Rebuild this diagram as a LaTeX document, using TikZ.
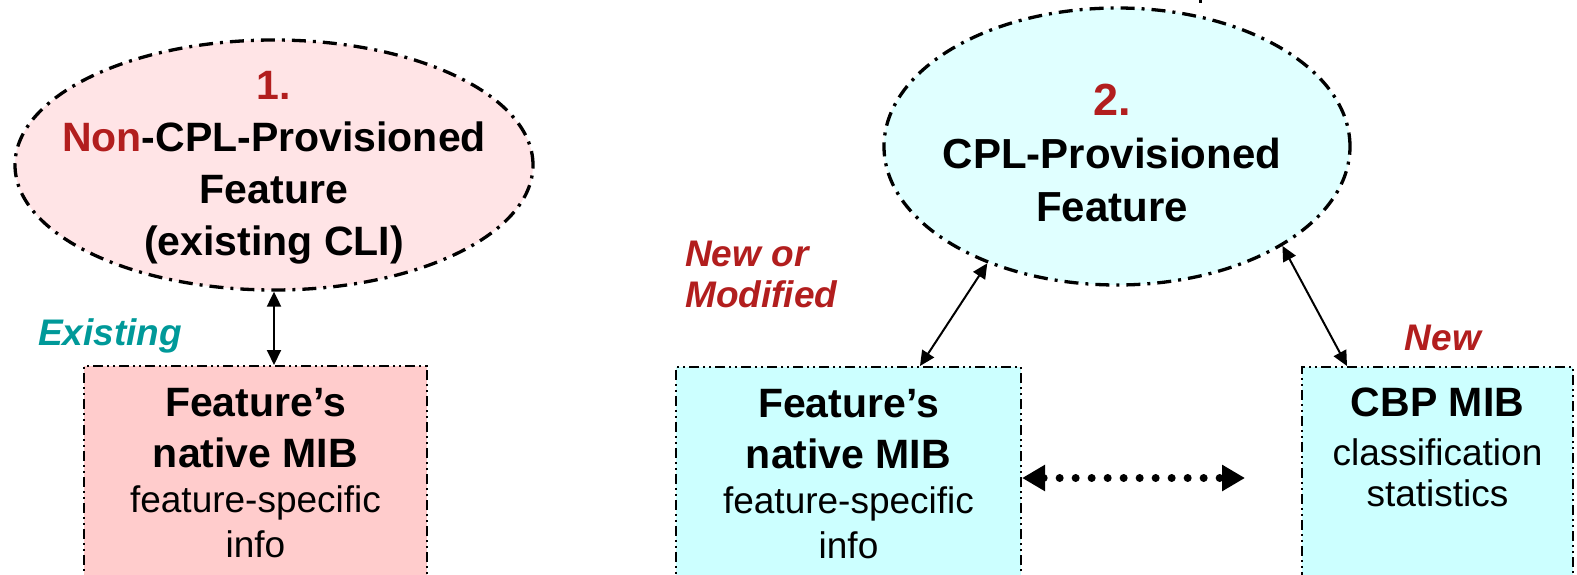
\documentclass[tikz,border=0pt]{standalone}
\usepackage{fontspec}
\setmainfont{Liberation Sans}
\usetikzlibrary{shapes.geometric,arrows.meta}
\definecolor{cplred}{RGB}{178,30,30}
\definecolor{cplteal}{RGB}{0,153,153}
\definecolor{pinkell}{RGB}{255,228,230}
\definecolor{pinkbox}{RGB}{255,204,204}
\definecolor{cyanell}{RGB}{224,255,255}
\definecolor{cyanbox}{RGB}{204,255,255}
\newcommand{\hd}[1]{{\bfseries\fontsize{41}{45}\selectfont #1}}

\begin{document}
\begin{tikzpicture}[x=1pt,y=-1pt,
  enode/.style={draw,ellipse,line width=3.3pt,dash pattern=on 14pt off 7pt on 3pt off 7pt,inner sep=0pt},
  tnode/.style={inner sep=0pt,align=center,font=\bfseries\fontsize{41}{52}\selectfont},
  bnode/.style={draw,rectangle,line width=2.2pt,dash pattern=on 10pt off 4pt on 2pt off 4pt on 2pt off 4pt,anchor=north,inner xsep=0pt,inner ysep=22pt,text depth=30pt,align=center,font=\fontsize{37}{45}\selectfont},
  lnode/.style={anchor=base west,inner sep=0pt,align=left,font=\bfseries\itshape\fontsize{37}{41}\selectfont},
  link/.style={line width=2pt,{Triangle[length=15pt,width=14pt]}-{Triangle[length=15pt,width=14pt]}}]
  \useasboundingbox (0,0) rectangle (1577,575);
  \clip (0,0) rectangle (1577,575);

  % feature 1
  \node[enode,fill=pinkell,minimum width=518pt,minimum height=250pt] (e1) at (274,165) {};
  \node[tnode] (e1t) at (274,168)
    {\textcolor{cplred}{1.}\\\textcolor{cplred}{Non}-CPL-Provisioned\\Feature\\(existing CLI)};
  \node[bnode,fill=pinkbox,minimum width=343pt] (b1) at (255.5,365)
    {\hd{Feature’s}\\[6pt]\hd{native MIB}\\feature-specific\\info};
  \node[lnode,text=cplteal] (l1) at (38,345) {Existing};

  % feature 2
  \node[enode,fill=cyanell,minimum width=466pt,minimum height=277pt] (e2) at (1117,146.5) {};
  \node[tnode,font=\bfseries\fontsize{42}{53}\selectfont] (e2t) at (1112,153)
    {\textcolor{cplred}{\fontsize{45}{53}\selectfont 2.}\\CPL-Provisioned\\Feature};
  \node[bnode,fill=cyanbox,minimum width=345pt] (b2) at (848.5,366)
    {\hd{Feature’s}\\[6pt]\hd{native MIB}\\feature-specific\\info};
  \node[bnode,fill=cyanbox,minimum width=271pt,inner ysep=21pt,text depth=80pt,font=\fontsize{37}{41}\selectfont] (b3) at (1437.5,366)
    {{\bfseries\fontsize{41}{41}\selectfont CBP MIB}\\[8pt]classification\\statistics};
  \node[lnode,text=cplred] (l2) at (685,307) {New or\\Modified};
  \node[lnode,text=cplred,anchor=base] (l3) at (1443,350) {New};

  \coordinate (dend) at (1245,478);
  \coordinate (up) at (1200,-20);

  \draw[link] (e1.south) -- (e1.south |- b1.north);
  \draw[link] (e2.222.8) -- ([xshift=71.5pt]b2.north);
  \draw[link] (e2.329.4) -- ([xshift=-90.5pt]b3.north);
  \draw[line width=8pt,dash pattern=on 0pt off 16pt,line cap=round,
    {Triangle[length=23pt,width=25pt,line cap=butt]}-{Triangle[length=23pt,width=25pt,line cap=butt]}]
    (b2.east |- dend) -- (dend);
  \draw[line width=3pt] (up) -- ++(0,23);
\end{tikzpicture}
\end{document}
